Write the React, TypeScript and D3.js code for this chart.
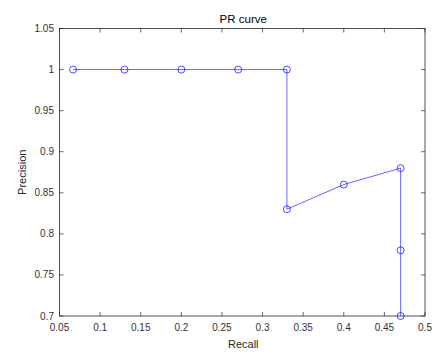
import React from "react";
import * as d3 from "d3";

const recall = [0.0667, 0.13, 0.2, 0.27, 0.33, 0.33, 0.4, 0.47, 0.47, 0.47];
const precision = [1, 1, 1, 1, 1, 0.83, 0.86, 0.88, 0.78, 0.7];
const xTicks = [0.05, 0.1, 0.15, 0.2, 0.25, 0.3, 0.35, 0.4, 0.45, 0.5];
const yTicks = [0.7, 0.75, 0.8, 0.85, 0.9, 0.95, 1, 1.05];

export default function App() {
  const W = 448, H = 358;
  const L = 59.5, R = 425, T = 28.5, B = 316;
  const x = d3.scaleLinear().domain([0.05, 0.5]).range([L, R]);
  const y = d3.scaleLinear().domain([0.7, 1.05]).range([B, T]);
  const pts = recall.map((r, i) => [r, precision[i]] as [number, number]);
  const line = d3.line<[number, number]>().x(d => x(d[0])).y(d => y(d[1]));
  const axisColor = "#262626";
  const labelColor = "#333333";
  const font = "'Liberation Sans', Arial, sans-serif";
  const fmt = (v: number) => String(+v.toFixed(2));
  const tl = 4;
  return (
    <svg width={W} height={H} style={{ position: "absolute", left: 0, top: 0, background: "#fff" }} fontFamily={font}>
      <rect x={0} y={0} width={W} height={H} fill="#fff" />
      <text x={(L + R) / 2 + 1} y={23} textAnchor="middle" fontSize={11.5} fill="#000">PR curve</text>
      {xTicks.map(t => (
        <g key={"x" + t}>
          <line x1={x(t)} x2={x(t)} y1={B} y2={B - tl} stroke={axisColor} strokeWidth={0.7} />
          <line x1={x(t)} x2={x(t)} y1={T} y2={T + tl} stroke={axisColor} strokeWidth={0.7} />
          <text x={x(t)} y={B + 15} textAnchor="middle" fontSize={10} fill={labelColor}>{fmt(t)}</text>
        </g>
      ))}
      {yTicks.map(t => (
        <g key={"y" + t}>
          <line x1={L} x2={L + tl} y1={y(t)} y2={y(t)} stroke={axisColor} strokeWidth={0.7} />
          <line x1={R} x2={R - tl} y1={y(t)} y2={y(t)} stroke={axisColor} strokeWidth={0.7} />
          <text x={L - 5.5} y={y(t) + 3.5} textAnchor="end" fontSize={10} fill={labelColor}>{fmt(t)}</text>
        </g>
      ))}
      <rect x={L} y={T} width={R - L} height={B - T} fill="none" stroke={axisColor} strokeWidth={0.8} />
      <text x={(L + R) / 2 + 1} y={348} textAnchor="middle" fontSize={11} fill={axisColor}>Recall</text>
      <text transform={`translate(26,${(T + B) / 2}) rotate(-90)`} textAnchor="middle" fontSize={11} fill={axisColor}>Precision</text>
      <path d={line(pts) || ""} fill="none" stroke="#0000ff" strokeWidth={0.6} />
      {pts.map((p, i) => (
        <circle key={i} cx={x(p[0])} cy={y(p[1])} r={3.5} fill="none" stroke="#0000ff" strokeWidth={0.7} />
      ))}
    </svg>
  );
}
